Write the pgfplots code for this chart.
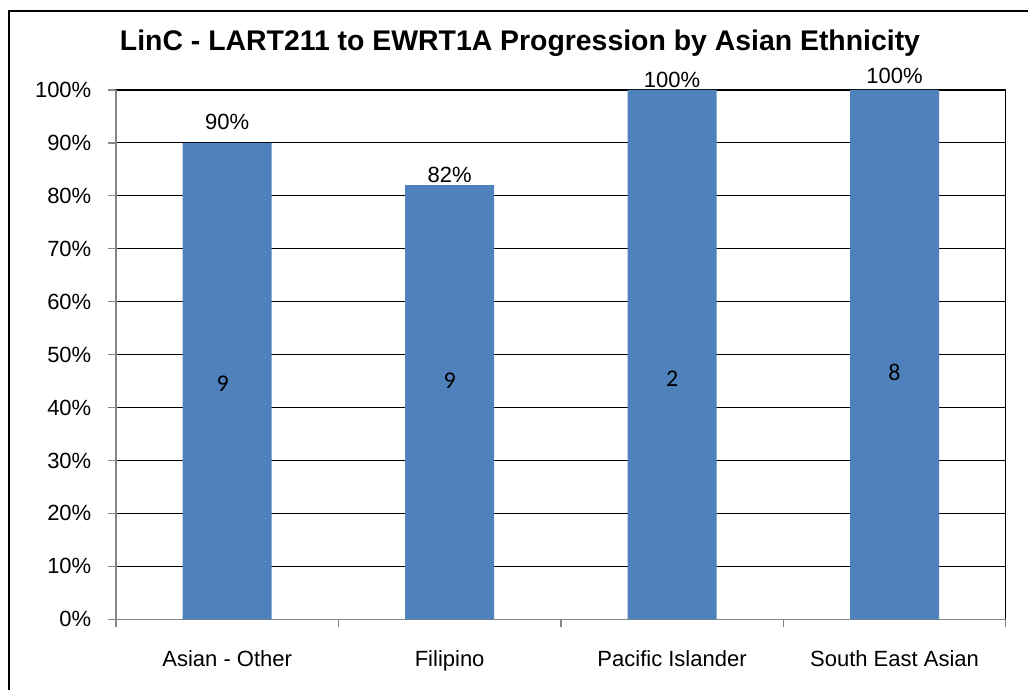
\documentclass[border=0pt]{standalone}
\usepackage{pgfplots}
\pgfplotsset{compat=1.18}
\usepackage{fontspec}
\setmainfont{Liberation Sans}
\newfontfamily\calib{Carlito}
\definecolor{barblue}{RGB}{79,129,189}
\definecolor{axgray}{RGB}{134,134,134}
\begin{document}
\begin{tikzpicture}
\useasboundingbox (0,0) rectangle (771pt,516.75pt);
\fill[white] (0,0) rectangle (771pt,516.75pt);
\draw[line width=1pt] (6.75pt,-2pt) -- (6.75pt,508.5pt) -- (773pt,508.5pt);
\node[font=\bfseries\fontsize{21.3}{24}\selectfont] at (390pt,484pt) {LinC - LART211 to EWRT1A Progression by Asian Ethnicity};
\begin{axis}[
  at={(87pt,52.3pt)}, anchor=south west,
  scale only axis, width=667.3pt, height=397pt,
  xmin=-0.5, xmax=3.5, ymin=0, ymax=100,
  clip=false,
  axis lines=left,
  axis line style={axgray, line width=1pt, -},
  ymajorgrids,
  major grid style={black, line width=0.9pt},
  tick align=outside,
  major tick length=6pt,
  tick style={axgray, line width=1pt},
  ytick={0,10,...,100},
  yticklabels={0\%,10\%,20\%,30\%,40\%,50\%,60\%,70\%,80\%,90\%,100\%},
  yticklabel style={font=\fontsize{16.5}{18}\selectfont, xshift=-9pt},
  xtick={-0.5,0.5,1.5,2.5,3.5},
  xticklabels={,,,,},
  extra x ticks={0,1,2,3},
  extra x tick labels={Asian - Other,Filipino,Pacific Islander,South East Asian},
  extra x tick style={major tick length=0pt, xticklabel style={font=\fontsize{16.5}{18}\selectfont, anchor=base, yshift=-35.5pt}},
]
\addplot[ybar, bar width=66.75pt, fill=barblue, draw=none] coordinates {(0,90) (1,82) (2,100) (3,100)};
\addplot[draw=none, mark=none, forget plot, nodes near coords, point meta=explicit symbolic,
  every node near coord/.style={anchor=center, text=black, font=\fontsize{16.5}{18}\selectfont}]
  coordinates {(0,93.95)[90\%] (1,84.0)[82\%] (2,101.8)[100\%] (3,102.7)[100\%]};
\addplot[draw=none, mark=none, forget plot, nodes near coords, point meta=explicit symbolic,
  every node near coord/.style={anchor=center, text=black, font=\calib\fontsize{18}{20}\selectfont}]
  coordinates {(-0.02,44.45)[9] (1,45.1)[9] (2,45.5)[2] (3,46.7)[8]};
\draw[black, line width=1pt] (rel axis cs:1,0) -- (rel axis cs:1,1);
\end{axis}
\end{tikzpicture}
\end{document}
